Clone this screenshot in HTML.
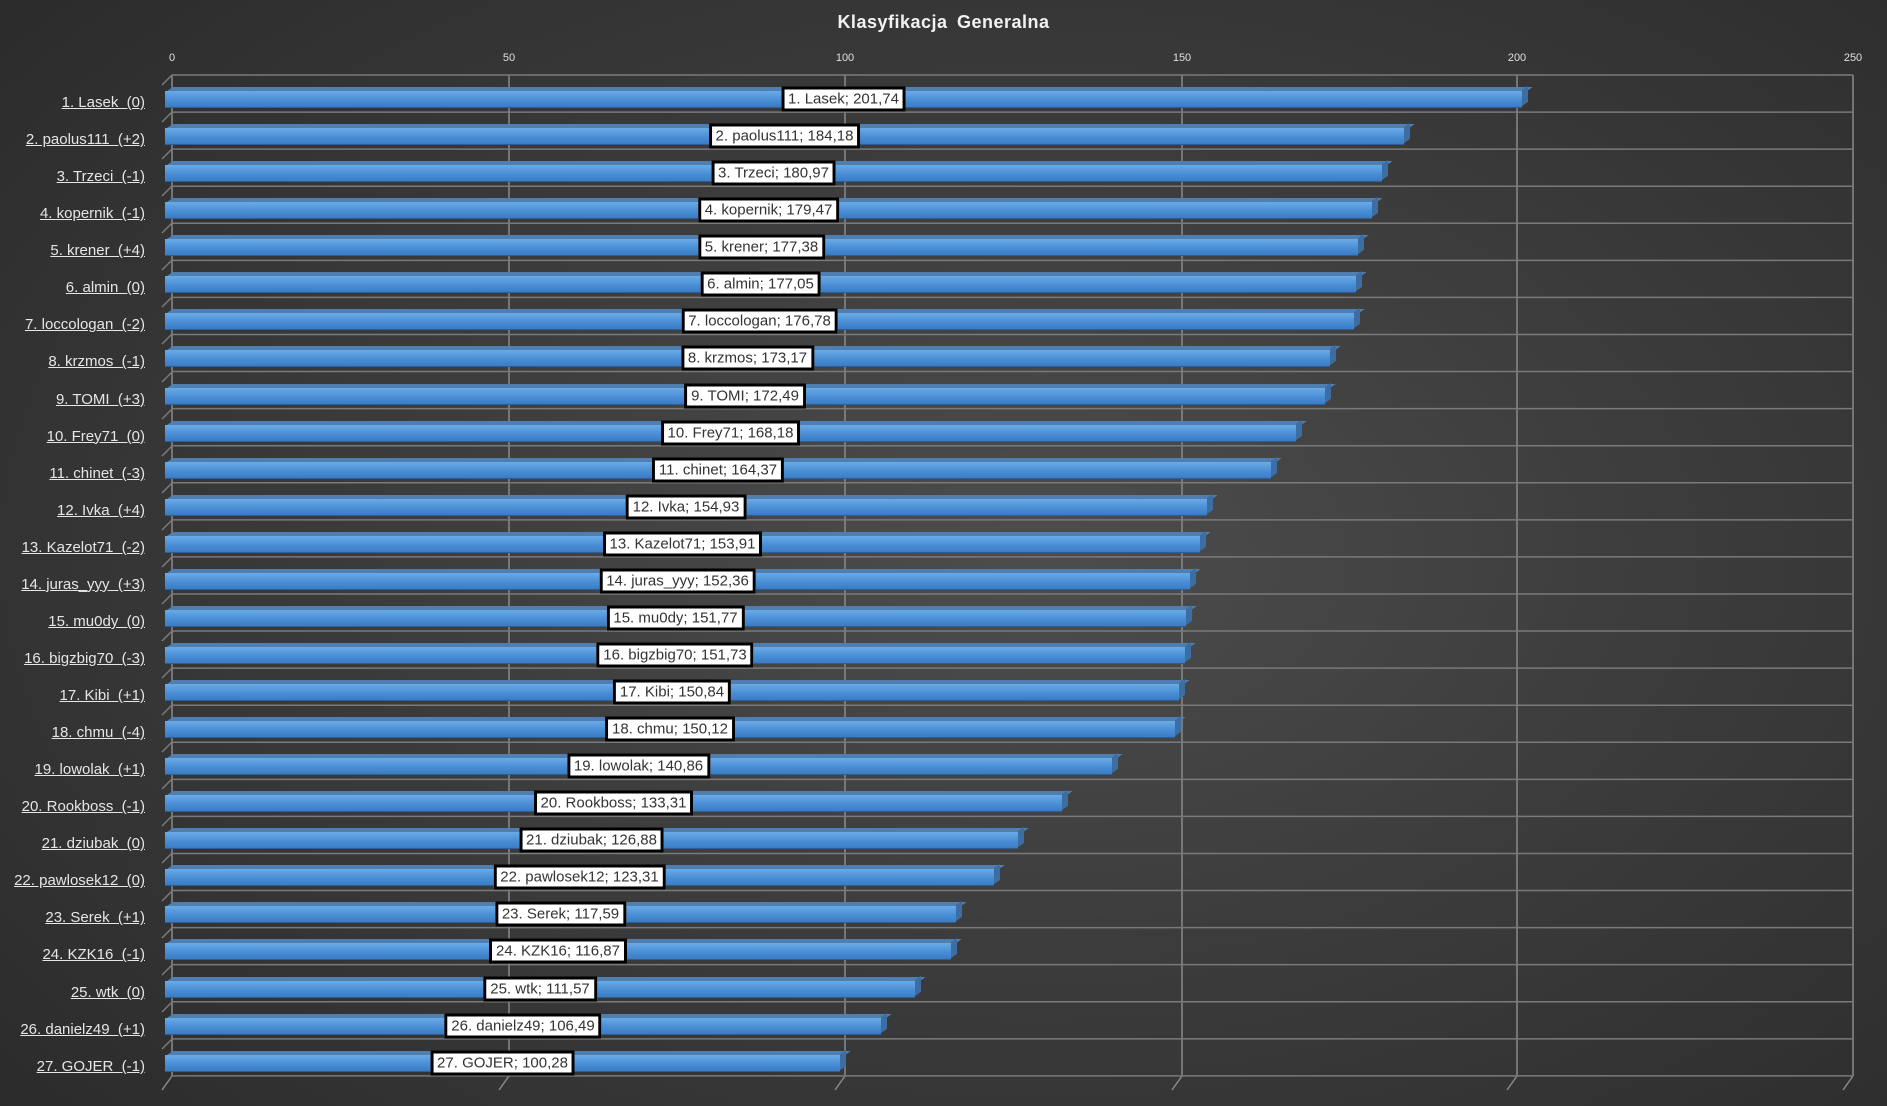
<!DOCTYPE html>
<html><head><meta charset="utf-8"><style>
html,body{margin:0;padding:0}
body{width:1887px;height:1106px;position:relative;overflow:hidden;font-family:"Liberation Sans",sans-serif;
background:radial-gradient(ellipse 75% 80% at 55% 50%,#4d4d4d 0%,#3c3c3c 45%,#2a2a2a 100%);}
svg.g{position:absolute;left:0;top:0}
.title{position:absolute;top:12px;left:0;width:1887px;text-align:center;color:#f2f2f2;font-weight:bold;font-size:18px;letter-spacing:0.5px;word-spacing:4px}
.tick{position:absolute;top:52px;color:#e0e0e0;font-size:11px;transform:translateX(-50%)}
#rows{position:absolute;left:0;top:80px;width:1887px}
.r{position:relative;height:37.07px}
.c{position:absolute;right:1742px;top:14px;color:#e6e6e6;font-size:15px;text-decoration:underline;white-space:pre}
.b{position:absolute;left:165px;top:11px;height:16px;background:linear-gradient(#6aaae6,#4a8fd6 55%,#3a7cc4);box-shadow:0 1px 0 #2d5f96}
.b::before{content:"";position:absolute;left:2px;right:-5px;top:-4px;height:4px;background:#4f7fb0;transform:skewX(-55deg);transform-origin:bottom left}
.b::after{content:"";position:absolute;right:-6px;top:-3px;width:6px;height:16px;background:#3c6da3;transform:skewY(-35deg)}
.l{position:absolute;left:50%;top:50%;transform:translate(-50%,-50%);background:#fff;border:3px solid #000;color:#333;font-size:15px;padding:1px 4px;white-space:nowrap;z-index:2}
</style></head><body>
<svg class="g" width="1887" height="1106">
<g stroke="#8a8a8a" stroke-width="1.5" fill="none">
<line x1="172" y1="75" x2="172" y2="1076"/><line x1="509" y1="75" x2="509" y2="1076"/><line x1="845" y1="75" x2="845" y2="1076"/><line x1="1182" y1="75" x2="1182" y2="1076"/><line x1="1517" y1="75" x2="1517" y2="1076"/><line x1="1853" y1="75" x2="1853" y2="1076"/>
<line x1="172" y1="1076" x2="162" y2="1090"/><line x1="509" y1="1076" x2="499" y2="1090"/><line x1="845" y1="1076" x2="835" y2="1090"/><line x1="1182" y1="1076" x2="1172" y2="1090"/><line x1="1517" y1="1076" x2="1507" y2="1090"/><line x1="1853" y1="1076" x2="1843" y2="1090"/>
</g>
<g stroke="#7a7a7a" stroke-width="1.5">
<path d="M172 75H1853M172 112.07H1853M172 149.14H1853M172 186.21H1853M172 223.28H1853M172 260.35H1853M172 297.42H1853M172 334.49H1853M172 371.56H1853M172 408.63H1853M172 445.7H1853M172 482.77H1853M172 519.84H1853M172 556.91H1853M172 593.98H1853M172 631.05H1853M172 668.12H1853M172 705.19H1853M172 742.26H1853M172 779.33H1853M172 816.4H1853M172 853.47H1853M172 890.54H1853M172 927.61H1853M172 964.68H1853M172 1001.75H1853M172 1038.82H1853M172 1075.89H1853"/>
<path d="M172 75l-10 10M172 112l-10 10M172 149l-10 10M172 186l-10 10M172 223l-10 10M172 260l-10 10M172 297l-10 10M172 334l-10 10M172 372l-10 10M172 409l-10 10M172 446l-10 10M172 483l-10 10M172 520l-10 10M172 557l-10 10M172 594l-10 10M172 631l-10 10M172 668l-10 10M172 705l-10 10M172 742l-10 10M172 779l-10 10M172 816l-10 10M172 853l-10 10M172 891l-10 10M172 928l-10 10M172 965l-10 10M172 1002l-10 10M172 1039l-10 10"/>
</g>
</svg>
<div class="title">Klasyfikacja  Generalna</div>
<div class="tick" style="left:172px">0</div><div class="tick" style="left:509px">50</div><div class="tick" style="left:845px">100</div><div class="tick" style="left:1182px">150</div><div class="tick" style="left:1517px">200</div><div class="tick" style="left:1853px">250</div>
<div id="rows">
<div class="r"><span class="c">1. Lasek  (0)</span><div class="b" style="width:1357px"><span class="l">1. Lasek; 201,74</span></div></div>
<div class="r"><span class="c">2. paolus111  (+2)</span><div class="b" style="width:1239px"><span class="l">2. paolus111; 184,18</span></div></div>
<div class="r"><span class="c">3. Trzeci  (-1)</span><div class="b" style="width:1217px"><span class="l">3. Trzeci; 180,97</span></div></div>
<div class="r"><span class="c">4. kopernik  (-1)</span><div class="b" style="width:1207px"><span class="l">4. kopernik; 179,47</span></div></div>
<div class="r"><span class="c">5. krener  (+4)</span><div class="b" style="width:1193px"><span class="l">5. krener; 177,38</span></div></div>
<div class="r"><span class="c">6. almin  (0)</span><div class="b" style="width:1191px"><span class="l">6. almin; 177,05</span></div></div>
<div class="r"><span class="c">7. loccologan  (-2)</span><div class="b" style="width:1189px"><span class="l">7. loccologan; 176,78</span></div></div>
<div class="r"><span class="c">8. krzmos  (-1)</span><div class="b" style="width:1165px"><span class="l">8. krzmos; 173,17</span></div></div>
<div class="r"><span class="c">9. TOMI  (+3)</span><div class="b" style="width:1160px"><span class="l">9. TOMI; 172,49</span></div></div>
<div class="r"><span class="c">10. Frey71  (0)</span><div class="b" style="width:1131px"><span class="l">10. Frey71; 168,18</span></div></div>
<div class="r"><span class="c">11. chinet  (-3)</span><div class="b" style="width:1106px"><span class="l">11. chinet; 164,37</span></div></div>
<div class="r"><span class="c">12. Ivka  (+4)</span><div class="b" style="width:1042px"><span class="l">12. Ivka; 154,93</span></div></div>
<div class="r"><span class="c">13. Kazelot71  (-2)</span><div class="b" style="width:1035px"><span class="l">13. Kazelot71; 153,91</span></div></div>
<div class="r"><span class="c">14. juras_yyy  (+3)</span><div class="b" style="width:1025px"><span class="l">14. juras_yyy; 152,36</span></div></div>
<div class="r"><span class="c">15. mu0dy  (0)</span><div class="b" style="width:1021px"><span class="l">15. mu0dy; 151,77</span></div></div>
<div class="r"><span class="c">16. bigzbig70  (-3)</span><div class="b" style="width:1020px"><span class="l">16. bigzbig70; 151,73</span></div></div>
<div class="r"><span class="c">17. Kibi  (+1)</span><div class="b" style="width:1014px"><span class="l">17. Kibi; 150,84</span></div></div>
<div class="r"><span class="c">18. chmu  (-4)</span><div class="b" style="width:1010px"><span class="l">18. chmu; 150,12</span></div></div>
<div class="r"><span class="c">19. lowolak  (+1)</span><div class="b" style="width:947px"><span class="l">19. lowolak; 140,86</span></div></div>
<div class="r"><span class="c">20. Rookboss  (-1)</span><div class="b" style="width:897px"><span class="l">20. Rookboss; 133,31</span></div></div>
<div class="r"><span class="c">21. dziubak  (0)</span><div class="b" style="width:853px"><span class="l">21. dziubak; 126,88</span></div></div>
<div class="r"><span class="c">22. pawlosek12  (0)</span><div class="b" style="width:829px"><span class="l">22. pawlosek12; 123,31</span></div></div>
<div class="r"><span class="c">23. Serek  (+1)</span><div class="b" style="width:791px"><span class="l">23. Serek; 117,59</span></div></div>
<div class="r"><span class="c">24. KZK16  (-1)</span><div class="b" style="width:786px"><span class="l">24. KZK16; 116,87</span></div></div>
<div class="r"><span class="c">25. wtk  (0)</span><div class="b" style="width:750px"><span class="l">25. wtk; 111,57</span></div></div>
<div class="r"><span class="c">26. danielz49  (+1)</span><div class="b" style="width:716px"><span class="l">26. danielz49; 106,49</span></div></div>
<div class="r"><span class="c">27. GOJER  (-1)</span><div class="b" style="width:675px"><span class="l">27. GOJER; 100,28</span></div></div>
</div>
</body></html>
